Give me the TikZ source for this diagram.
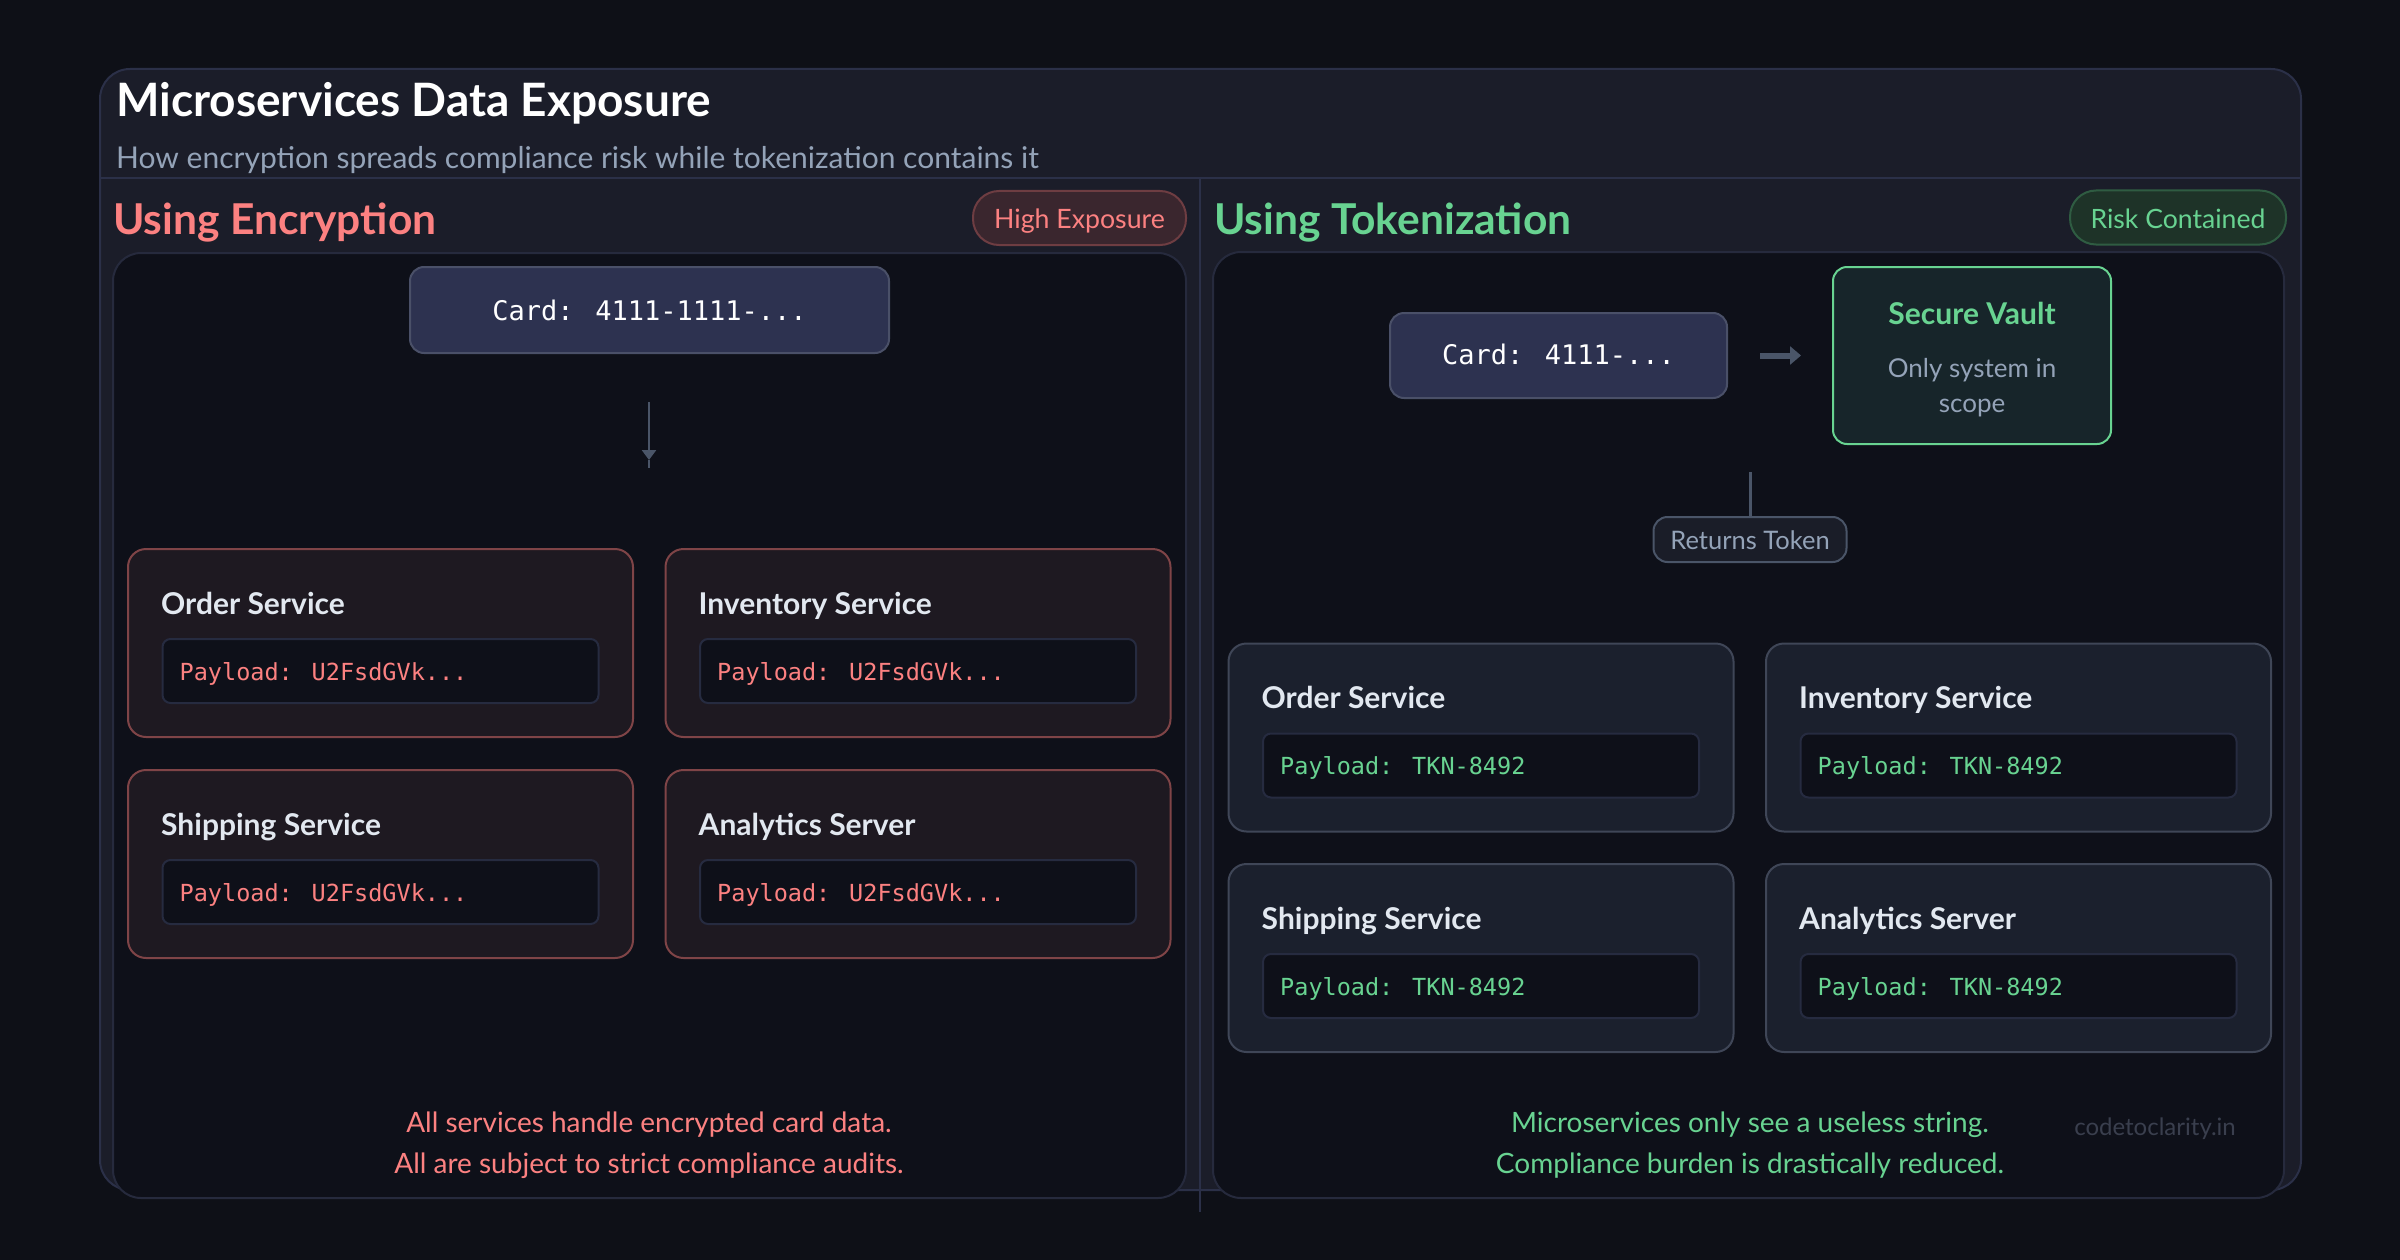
\documentclass[tikz,border=0pt]{standalone}
\usepackage{fontspec}
\setmainfont{Lato}
\newfontfamily\monof{DejaVu Sans Mono}
\usetikzlibrary{arrows.meta}
\definecolor{bgc}{HTML}{0E1017}
\definecolor{cardc}{HTML}{1B1D29}
\definecolor{cardline}{HTML}{2B3048}
\definecolor{innerc}{HTML}{0E1019}
\definecolor{innerline}{HTML}{262A3D}
\definecolor{redc}{HTML}{FC8181}
\definecolor{greenc}{HTML}{68D391}
\definecolor{subc}{HTML}{94A3B8}
\definecolor{titlec}{HTML}{E2E8F0}
\definecolor{cardnode}{HTML}{2D3250}
\definecolor{cardnodeline}{HTML}{4A5068}
\definecolor{redbox}{HTML}{1E1921}
\definecolor{redboxline}{HTML}{7F4447}
\definecolor{greenbox}{HTML}{1B202D}
\definecolor{greenboxline}{HTML}{3F4657}
\definecolor{payc}{HTML}{0E1019}
\definecolor{payline}{HTML}{262B40}
\definecolor{hipill}{HTML}{3A262E}
\definecolor{hipillline}{HTML}{6E3D42}
\definecolor{lopill}{HTML}{1E3328}
\definecolor{lopillline}{HTML}{2F5C42}
\definecolor{vaultc}{HTML}{17252A}
\definecolor{arrc}{HTML}{4A5568}
\definecolor{rtpill}{HTML}{1A1D28}
\definecolor{markc}{HTML}{3A3F4E}
\tikzset{
  fs/.style={font=\fontsize{#1}{#1}\selectfont},
  outercard/.style={draw=cardline, line width=2pt, fill=cardc, rounded corners=30pt, inner sep=0pt},
  innerbox/.style={draw=innerline, line width=2pt, fill=innerc, rounded corners=28pt, inner sep=0pt},
  cardbox/.style={draw=cardnodeline, line width=2pt, fill=cardnode, rounded corners=14pt, inner sep=0pt, text=white, font=\monof\fontsize{27}{27}\selectfont},
  redsvc/.style={draw=redboxline, line width=2pt, fill=redbox, rounded corners=18pt, inner sep=0pt, minimum width=505pt, minimum height=188pt},
  greensvc/.style={draw=greenboxline, line width=2pt, fill=greenbox, rounded corners=18pt, inner sep=0pt, minimum width=505pt, minimum height=188pt},
  paybox/.style={draw=payline, line width=2pt, fill=payc, rounded corners=8pt, inner sep=0pt, minimum width=436pt, minimum height=64pt},
  svctitle/.style={inner sep=0pt, text=titlec, font=\bfseries\fontsize{30}{30}\selectfont},
  redpay/.style={inner sep=0pt, text=redc, font=\monof\fontsize{23.5}{23.5}\selectfont},
  greenpay/.style={inner sep=0pt, text=greenc, font=\monof\fontsize{23.5}{23.5}\selectfont},
  pill/.style={line width=2pt, rounded corners=26pt, inner sep=0pt},
  txt/.style={inner sep=0pt},
}
\newcommand\svcnode[6]{%
  \node[#6svc] (#1) at (#2,#3) {};
  \node[paybox] (#1p) at (#2,#3+28) {};
  \node[svctitle, anchor=base west] (#1t) at (#2-219.5,#3-29) {#4};
  \node[#6pay, anchor=base west] (#1x) at (#2-201,#3+37) {#5};
}
\begin{document}
\begin{tikzpicture}[x=1pt,y=-1pt]
\fill[bgc] (0,0) rectangle (2400,1260);
\useasboundingbox (0,0) rectangle (2400,1260);
% outer card
\node[outercard, minimum width=2201pt, minimum height=1121pt] (card) at (1200.5,629.5) {};
\coordinate (sepL) at (101,178);
\coordinate (sepR) at (2300,178);
\draw[cardline, line width=2pt] (sepL) -- (sepR);
\coordinate (divT) at (1200,178);
\coordinate (divB) at (1200,1212);
\draw[cardline, line width=2pt] (divT) -- (divB);
% header
\node[txt, anchor=base west, text=white, font=\bfseries\fontsize{46}{46}\selectfont] (title) at (116,117) {Microservices Data Exposure};
\node[txt, anchor=base west, text=subc, fs=30] (subtitle) at (116,169) {How encryption spreads compliance risk while tokenization contains it};
% section headers
\node[txt, anchor=base west, text=redc, font=\bfseries\fontsize{42.5}{42.5}\selectfont] (encH) at (113,234) {Using Encryption};
\node[txt, anchor=base west, text=greenc, font=\bfseries\fontsize{42.5}{42.5}\selectfont] (tokH) at (1214,234) {Using Tokenization};
\node[pill, draw=hipillline, fill=hipill, minimum width=213pt, minimum height=54pt] (hiP) at (1079.5,218) {};
\node[txt, anchor=base, text=redc, fs=26.7] (hiT) at (1079.5,228) {High Exposure};
\node[pill, draw=lopillline, fill=lopill, minimum width=216pt, minimum height=54pt] (loP) at (2178,217.5) {};
\node[txt, anchor=base, text=greenc, fs=26.6] (loT) at (2178,228) {Risk Contained};
% inner boxes
\node[innerbox, minimum width=1073pt, minimum height=945pt] (leftbox) at (649.5,725.5) {};
\node[innerbox, minimum width=1071pt, minimum height=946pt] (rightbox) at (1748.5,725) {};
% left side
\node[cardbox, minimum width=479pt, minimum height=86pt] (cardL) at (649.5,310) {};
\node[txt, anchor=base, text=white, font=\monof\fontsize{27}{27}\selectfont] (cardLt) at (649.5,320) {Card: 4111-1111-...};
\coordinate (aT) at (649,402);
\coordinate (aM) at (649,460);
\coordinate (aB) at (649,468);
\draw[arrc, line width=2.5pt, -{Triangle[width=14pt,length=10pt]}] (aT) -- (aM);
\draw[arrc, line width=2.5pt] (aM) -- (aB);
\svcnode{lo}{380.5}{643}{Order Service}{Payload: U2FsdGVk...}{red}
\svcnode{li}{918}{643}{Inventory Service}{Payload: U2FsdGVk...}{red}
\svcnode{ls}{380.5}{864}{Shipping Service}{Payload: U2FsdGVk...}{red}
\svcnode{la}{918}{864}{Analytics Server}{Payload: U2FsdGVk...}{red}
\node[txt, anchor=base, text=redc, fs=28] (lnote1) at (649,1132) {All services handle encrypted card data.};
\node[txt, anchor=base, text=redc, fs=28] (lnote2) at (649,1173) {All are subject to strict compliance audits.};
% right side
\node[cardbox, minimum width=337pt, minimum height=85pt] (cardR) at (1558.5,355.5) {};
\node[txt, anchor=base, text=white, font=\monof\fontsize{27}{27}\selectfont] (cardRt) at (1558.5,364) {Card: 4111-...};
\node[draw=greenc, line width=2pt, fill=vaultc, rounded corners=14pt, minimum width=278pt, minimum height=177pt, inner sep=0pt] (vault) at (1972,355.5) {};
\node[txt, anchor=base, text=greenc, font=\bfseries\fontsize{30}{30}\selectfont] (vaultT) at (1972,324) {Secure Vault};
\node[txt, anchor=base, text=subc, fs=26] (vault1) at (1972,377) {Only system in};
\node[txt, anchor=base, text=subc, fs=26] (vault2) at (1972,412) {scope};
\draw[arrc, line width=6pt, shorten <=32pt, shorten >=31pt, -{Triangle[width=18pt,length=11pt]}] (cardR.east) -- (vault.west);
\node[draw=arrc, line width=2pt, fill=rtpill, rounded corners=14pt, minimum width=193pt, minimum height=45pt, inner sep=0pt] (rt) at (1750,539.5) {};
\node[txt, anchor=base, text=subc, fs=25.5] (rtT) at (1750,549) {Returns Token};
\coordinate (rtTop) at (1750,472);
\draw[arrc, line width=3pt] (rtTop) -- (rt.north);
\svcnode{ro}{1481}{737.5}{Order Service}{Payload: TKN-8492}{green}
\svcnode{ri}{2018.5}{737.5}{Inventory Service}{Payload: TKN-8492}{green}
\svcnode{rs}{1481}{958}{Shipping Service}{Payload: TKN-8492}{green}
\svcnode{ra}{2018.5}{958}{Analytics Server}{Payload: TKN-8492}{green}
\node[txt, anchor=base, text=greenc, fs=28] (rnote1) at (1750,1132) {Microservices only see a useless string.};
\node[txt, anchor=base, text=greenc, fs=28] (rnote2) at (1750,1173) {Compliance burden is drastically reduced.};
\node[txt, anchor=base, text=markc, fs=24] (mark) at (2155,1135) {codetoclarity.in};
\end{tikzpicture}
\end{document}
